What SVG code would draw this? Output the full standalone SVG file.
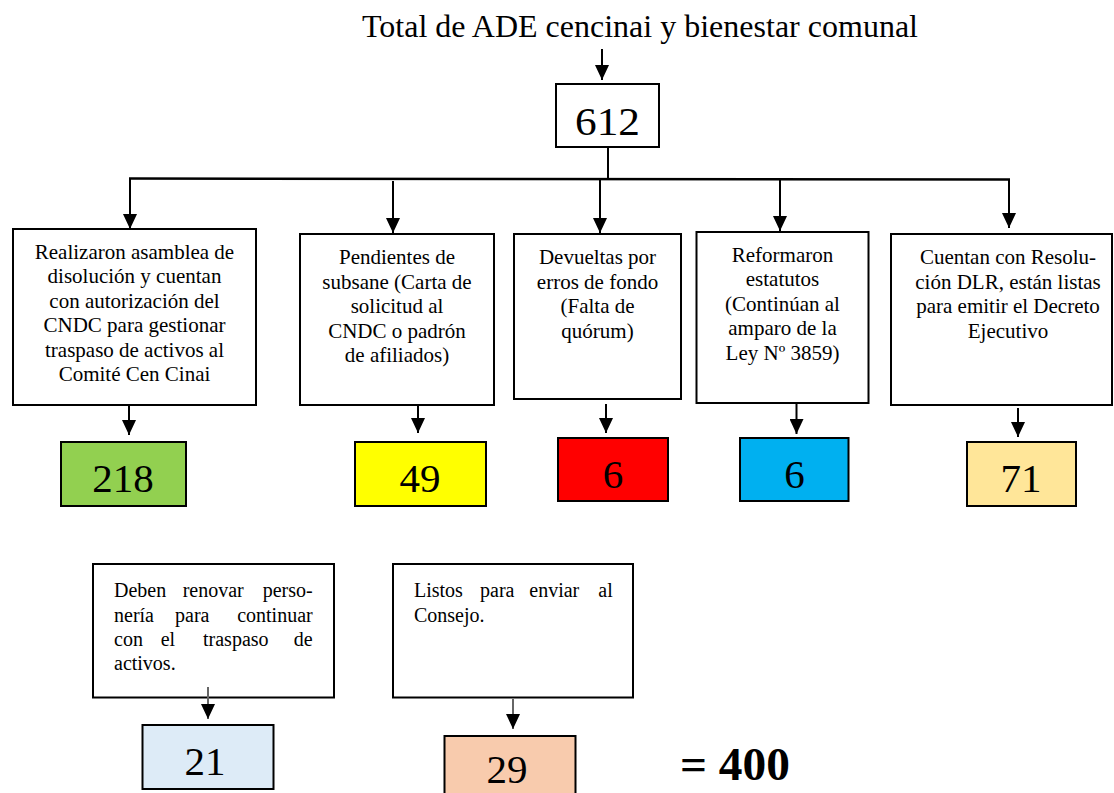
<svg xmlns="http://www.w3.org/2000/svg" width="1114" height="793" viewBox="0 0 1114 793">
<defs>
<marker id="ah" markerUnits="userSpaceOnUse" markerWidth="15" markerHeight="14" refX="15" refY="7" orient="auto">
<path d="M0,0 L15,7 L0,14 z" fill="#000"/>
</marker>
<style>
.box{fill:#fff;stroke:#000;stroke-width:2}
.num{stroke:#000;stroke-width:2}
.t{font-family:"Liberation Serif","Times New Roman",serif;font-size:21px;fill:#000}
.s{font-family:"Liberation Serif","Times New Roman",serif;font-size:20px;fill:#000}
.c{text-anchor:middle}
.n{font-family:"Liberation Serif","Times New Roman",serif;font-size:41px;fill:#000;text-anchor:middle}
.ln{stroke:#000;stroke-width:2;fill:none}
.ar{stroke:#000;stroke-width:2;fill:none;marker-end:url(#ah)}
.arg{stroke:#666;stroke-width:2;fill:none;marker-end:url(#ah)}
</style>
</defs>
<rect width="1114" height="793" fill="#fff"/>

<g id="title">
<text x="640" y="37" class="t c" style="font-size:31px" textLength="556" lengthAdjust="spacingAndGlyphs">Total de ADE cencinai y bienestar comunal</text>
</g>

<g id="total">
<rect x="556" y="84" width="103" height="63" class="box"/>
<text x="607.5" y="135" class="n" textLength="65" lengthAdjust="spacingAndGlyphs">612</text>
</g>

<g id="n1">
<rect x="13" y="229" width="243" height="176" class="box"/>
<text class="t c"><tspan x="134.5" y="258.5">Realizaron asamblea de</tspan><tspan x="134.5" y="283">disolución y cuentan</tspan><tspan x="134.5" y="307.5">con autorización del</tspan><tspan x="134.5" y="332">CNDC para gestionar</tspan><tspan x="134.5" y="356.5">traspaso de activos al</tspan><tspan x="134.5" y="381">Comité Cen Cinai</tspan></text>
</g>
<g id="n2">
<rect x="300" y="234" width="194" height="171" class="box"/>
<text class="t c"><tspan x="397" y="264">Pendientes de</tspan><tspan x="397" y="288.5">subsane (Carta de</tspan><tspan x="397" y="313">solicitud al</tspan><tspan x="397" y="337.5">CNDC o padrón</tspan><tspan x="397" y="362">de afiliados)</tspan></text>
</g>
<g id="n3">
<rect x="514" y="234" width="167" height="165" class="box"/>
<text class="t c"><tspan x="597.5" y="264">Devueltas por</tspan><tspan x="597.5" y="288.5">erros de fondo</tspan><tspan x="597.5" y="313">(Falta de</tspan><tspan x="597.5" y="337.5">quórum)</tspan></text>
</g>
<g id="n4">
<rect x="696.5" y="232" width="172" height="171" class="box"/>
<text class="t c"><tspan x="782.5" y="261.5">Reformaron</tspan><tspan x="782.5" y="286">estatutos</tspan><tspan x="782.5" y="310.5">(Continúan al</tspan><tspan x="782.5" y="335">amparo de la</tspan><tspan x="782.5" y="359.5">Ley Nº 3859)</tspan></text>
</g>
<g id="n5">
<rect x="891" y="234" width="221" height="171" class="box"/>
<text class="t c"><tspan x="1008" y="264">Cuentan con Resolu-</tspan><tspan x="1008" y="288.5">ción DLR, están listas</tspan><tspan x="1008" y="313">para emitir el Decreto</tspan><tspan x="1008" y="337.5">Ejecutivo</tspan></text>
</g>

<g id="v218">
<rect x="61" y="442" width="125" height="64" fill="#92D050" class="num"/>
<text x="123" y="492" class="n">218</text>
</g>
<g id="v49">
<rect x="355" y="442" width="131" height="64" fill="#FFFF00" class="num"/>
<text x="420" y="492" class="n">49</text>
</g>
<g id="v6a">
<rect x="558" y="438" width="110" height="63" fill="#FF0000" class="num"/>
<text x="613" y="488" class="n">6</text>
</g>
<g id="v6b">
<rect x="740" y="438" width="108.5" height="63" fill="#00B0F0" class="num"/>
<text x="794.5" y="488" class="n">6</text>
</g>
<g id="v71">
<rect x="967" y="442" width="109" height="64" fill="#FFE699" class="num"/>
<text x="1021" y="492" class="n">71</text>
</g>

<g id="n6">
<rect x="93" y="564" width="241" height="133.5" class="box"/>
<text class="s"><tspan x="114" y="597">Deben</tspan><tspan x="182.7" y="597">renovar</tspan><tspan x="312.7" y="597" text-anchor="end">perso-</tspan></text>
<text class="s"><tspan x="114" y="621.5">nería</tspan><tspan x="175" y="621.5">para</tspan><tspan x="312.7" y="621.5" text-anchor="end">continuar</tspan></text>
<text class="s"><tspan x="114" y="646">con</tspan><tspan x="160.7" y="646">el</tspan><tspan x="203" y="646">traspaso</tspan><tspan x="312.7" y="646" text-anchor="end">de</tspan></text>
<text class="s" x="114" y="670">activos.</text>
</g>
<g id="n7">
<rect x="393" y="564" width="240" height="133.5" class="box"/>
<text class="s"><tspan x="414" y="597">Listos</tspan><tspan x="480" y="597">para</tspan><tspan x="529.3" y="597">enviar</tspan><tspan x="612.7" y="597" text-anchor="end">al</tspan></text>
<text class="s" x="414" y="621.5">Consejo.</text>
</g>

<g id="v21">
<rect x="142.5" y="725" width="131" height="64" fill="#DDEBF7" class="num"/>
<text x="205" y="775" class="n">21</text>
</g>
<g id="v29">
<rect x="444.5" y="736" width="131" height="70" fill="#F8CBAD" class="num"/>
<text x="507" y="783" class="n">29</text>
</g>

<g id="sum">
<text x="735" y="780" style="font-family:'Liberation Serif','Times New Roman',serif;font-size:47px;font-weight:bold;text-anchor:middle" textLength="110" lengthAdjust="spacingAndGlyphs">= 400</text>
</g>

<g id="connectors">
<line x1="602" y1="49" x2="602" y2="80" class="ar"/>
<line x1="608" y1="147" x2="608" y2="178.5" class="ln"/>
<line x1="129" y1="178.5" x2="1010" y2="179.5" class="ln" style="stroke-width:2.5"/>
<line x1="130" y1="178.5" x2="130" y2="229" class="ar"/>
<line x1="393" y1="181" x2="393" y2="233" class="ar"/>
<line x1="600" y1="179" x2="600" y2="233" class="ar"/>
<line x1="780" y1="179" x2="780" y2="231" class="ar"/>
<line x1="1009" y1="179.5" x2="1009" y2="228" class="ar"/>
<line x1="129" y1="405" x2="129" y2="435" class="ar"/>
<line x1="418" y1="405" x2="418" y2="433" class="ar"/>
<line x1="606" y1="404" x2="606" y2="433" class="ar"/>
<line x1="796.5" y1="404" x2="796.5" y2="434" class="ar"/>
<line x1="1018" y1="408" x2="1018" y2="437" class="ar"/>
<line x1="208" y1="687" x2="208" y2="719" class="arg"/>
<line x1="513" y1="699" x2="513" y2="729" class="arg"/>
</g>
</svg>
